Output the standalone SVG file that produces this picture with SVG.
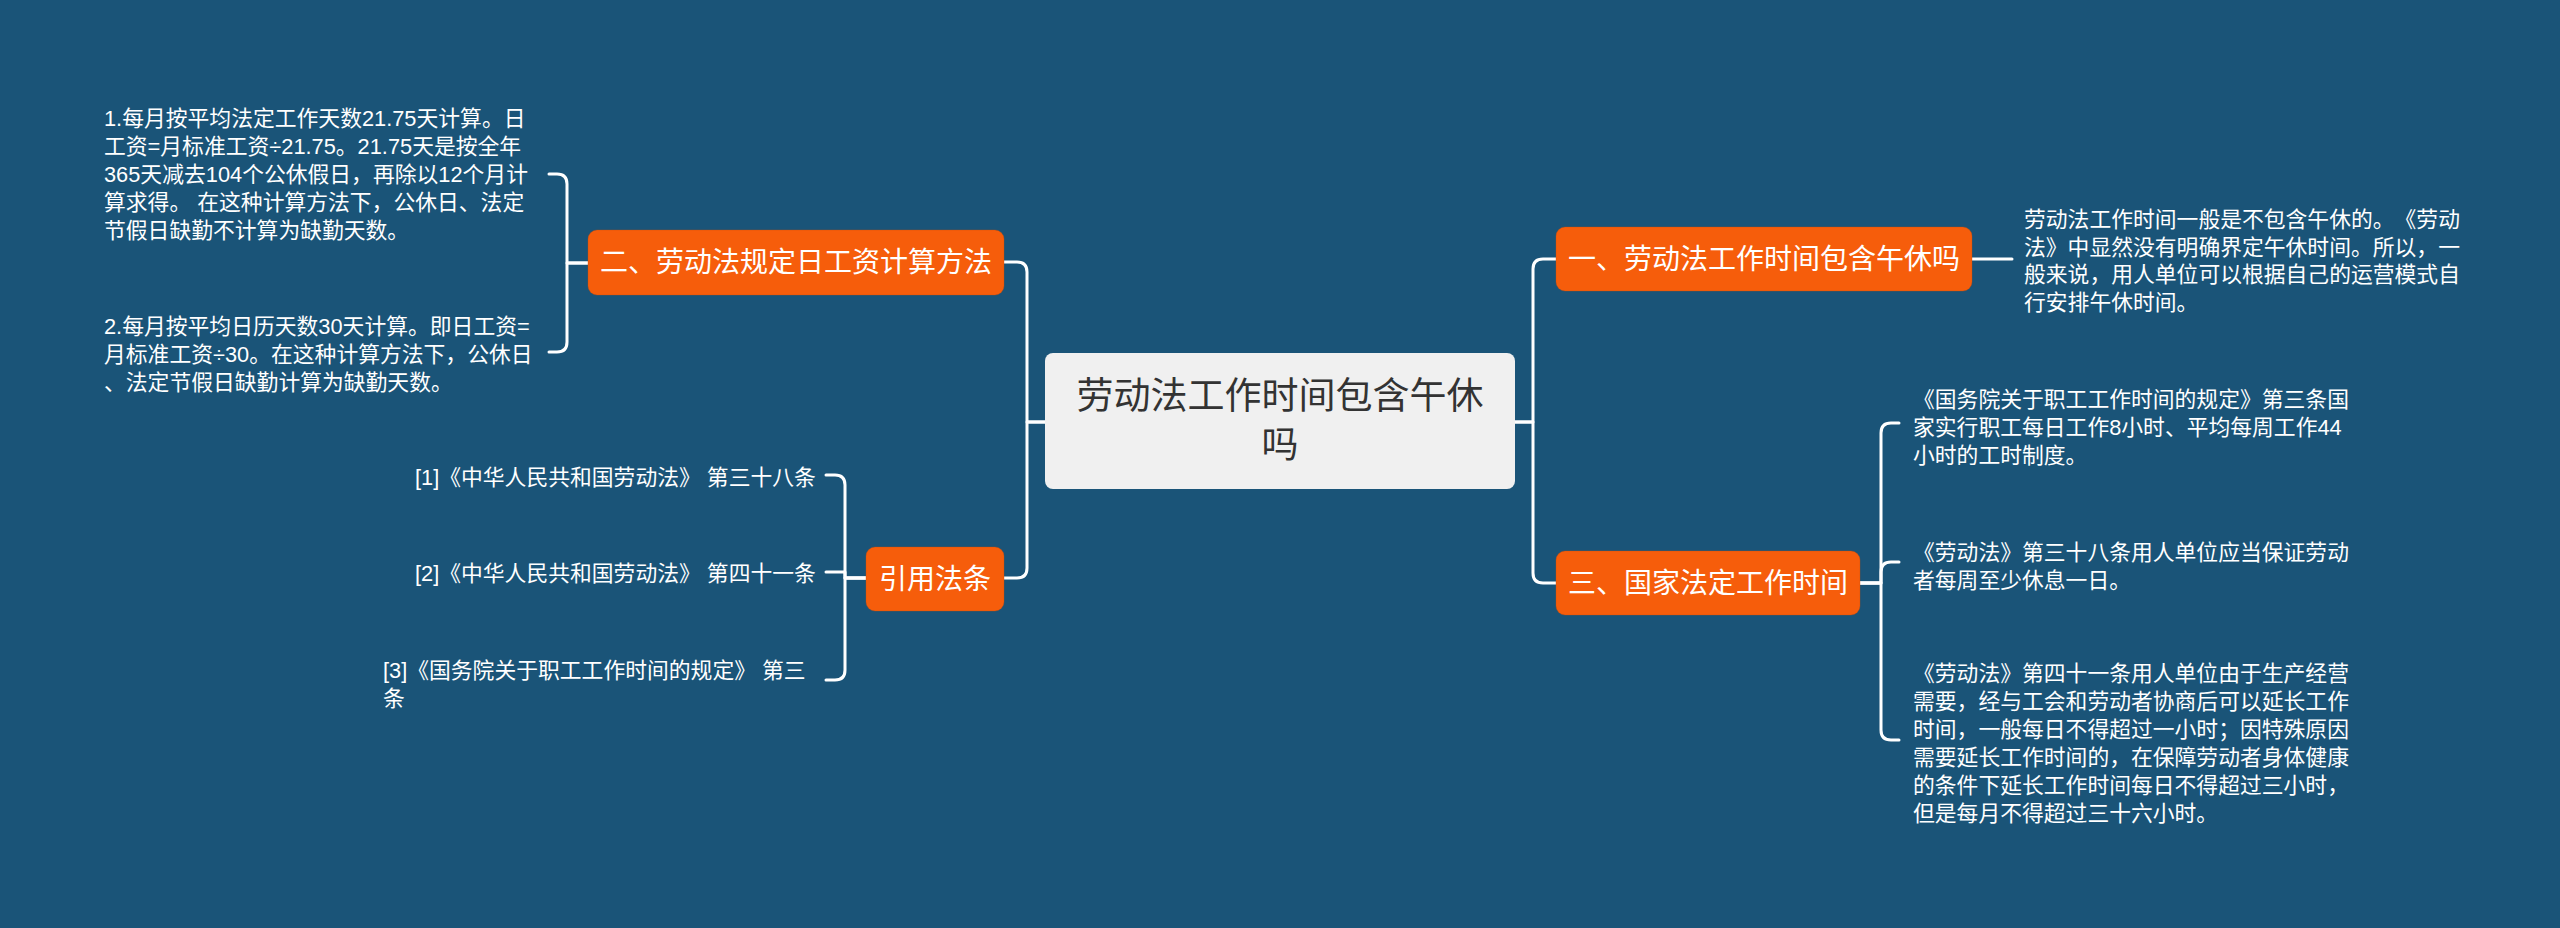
<svg xmlns="http://www.w3.org/2000/svg" width="2560" height="928" viewBox="0 0 2560 928">
<style>
text{font-family:"Liberation Sans","Noto Sans CJK SC",sans-serif;dominant-baseline:central;text-spacing-trim:space-all}
.leaf{fill:#ffffff;font-size:21.8px}
.topic{fill:#ffffff;font-size:28px;text-anchor:middle}
.obox{fill:#f65d0b;stroke:#c94a08;stroke-opacity:0.35;stroke-width:1}
.conn{fill:none;stroke:#ffffff;stroke-width:3;stroke-linecap:round;stroke-linejoin:round}
</style>
<rect x="0" y="0" width="2560" height="928" fill="#1a5478"/>
<g id="connectors">
<path class="conn" d="M1045,422 H1027 V272 Q1027,262 1017,262 H1004"/>
<path class="conn" d="M1045,422 H1027 V568 Q1027,578 1017,578 H1004"/>
<path class="conn" d="M1515,422 H1533 V269 Q1533,259 1543,259 H1556"/>
<path class="conn" d="M1515,422 H1533 V573 Q1533,583 1543,583 H1556"/>
<path class="conn" d="M588,263 H567 V184 Q567,174 557,174 H549"/>
<path class="conn" d="M588,263 H567 V342 Q567,352 557,352 H549"/>
<path class="conn" d="M866,578 H845 V485 Q845,475 835,475 H826"/>
<path class="conn" d="M866,578 H845 V572 H826"/>
<path class="conn" d="M866,578 H845 V670 Q845,680 835,680 H826"/>
<path class="conn" d="M1972,259 H2012"/>
<path class="conn" d="M1860,583 H1881 V433 Q1881,423 1891,423 H1899"/>
<path class="conn" d="M1860,583 H1881 V572 Q1881,562 1891,562 H1899"/>
<path class="conn" d="M1860,583 H1881 V730 Q1881,740 1891,740 H1899"/>
</g>
<g id="root">
<rect x="1045" y="353" width="470" height="136" rx="8" fill="#f0f0f0"/>
<text x="1280" y="396" font-size="37" fill="#333333" text-anchor="middle">劳动法工作时间包含午休</text>
<text x="1280" y="445" font-size="37" fill="#333333" text-anchor="middle">吗</text>
</g>
<g id="topic2">
<rect class="obox" x="588" y="230" width="416" height="65" rx="9"/>
<text class="topic" x="796" y="262.5">二、劳动法规定日工资计算方法</text>
</g>
<g id="topic-cite">
<rect class="obox" x="866" y="547" width="138" height="64" rx="9"/>
<text class="topic" x="935" y="579">引用法条</text>
</g>
<g id="topic1">
<rect class="obox" x="1556" y="227" width="416" height="64" rx="9"/>
<text class="topic" x="1764" y="259">一、劳动法工作时间包含午休吗</text>
</g>
<g id="topic3">
<rect class="obox" x="1556" y="551" width="304" height="64" rx="9"/>
<text class="topic" x="1708" y="583">三、国家法定工作时间</text>
</g>
<g id="leaf2-1">
<text class="leaf" x="104" y="118">1.每月按平均法定工作天数21.75天计算。日</text>
<text class="leaf" x="104" y="146">工资=月标准工资÷21.75。21.75天是按全年</text>
<text class="leaf" x="104" y="174">365天减去104个公休假日，再除以12个月计</text>
<text class="leaf" x="104" y="202">算求得。 在这种计算方法下，公休日、法定</text>
<text class="leaf" x="104" y="230">节假日缺勤不计算为缺勤天数。</text>
</g>
<g id="leaf2-2">
<text class="leaf" x="104" y="326">2.每月按平均日历天数30天计算。即日工资=</text>
<text class="leaf" x="104" y="354">月标准工资÷30。在这种计算方法下，公休日</text>
<text class="leaf" x="104" y="382">、法定节假日缺勤计算为缺勤天数。</text>
</g>
<g id="cite-1">
<text class="leaf" x="415" y="477">[1]《中华人民共和国劳动法》 第三十八条</text>
</g>
<g id="cite-2">
<text class="leaf" x="415" y="573">[2]《中华人民共和国劳动法》 第四十一条</text>
</g>
<g id="cite-3">
<text class="leaf" x="383" y="670">[3]《国务院关于职工工作时间的规定》 第三</text>
<text class="leaf" x="383" y="698">条</text>
</g>
<g id="leaf1-1">
<text class="leaf" x="2024" y="219.5">劳动法工作时间一般是不包含午休的。《劳动</text>
<text class="leaf" x="2024" y="247">法》中显然没有明确界定午休时间。所以，一</text>
<text class="leaf" x="2024" y="274.5">般来说，用人单位可以根据自己的运营模式自</text>
<text class="leaf" x="2024" y="302">行安排午休时间。</text>
</g>
<g id="leaf3-1">
<text class="leaf" x="1913" y="399">《国务院关于职工工作时间的规定》第三条国</text>
<text class="leaf" x="1913" y="427">家实行职工每日工作8小时、平均每周工作44</text>
<text class="leaf" x="1913" y="455">小时的工时制度。</text>
</g>
<g id="leaf3-2">
<text class="leaf" x="1913" y="552">《劳动法》第三十八条用人单位应当保证劳动</text>
<text class="leaf" x="1913" y="580">者每周至少休息一日。</text>
</g>
<g id="leaf3-3">
<text class="leaf" x="1913" y="673">《劳动法》第四十一条用人单位由于生产经营</text>
<text class="leaf" x="1913" y="701">需要，经与工会和劳动者协商后可以延长工作</text>
<text class="leaf" x="1913" y="729">时间，一般每日不得超过一小时；因特殊原因</text>
<text class="leaf" x="1913" y="757">需要延长工作时间的，在保障劳动者身体健康</text>
<text class="leaf" x="1913" y="785">的条件下延长工作时间每日不得超过三小时，</text>
<text class="leaf" x="1913" y="813">但是每月不得超过三十六小时。</text>
</g>
</svg>
